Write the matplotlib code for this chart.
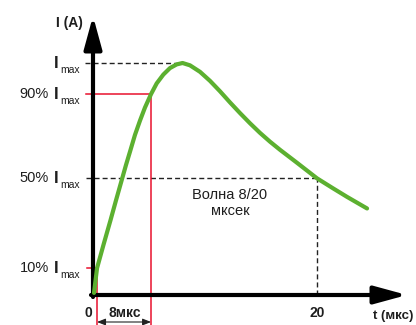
import matplotlib
matplotlib.use('Agg')
import matplotlib.pyplot as plt

# ---- data (time in µs, current as fraction of Imax) ----
t_us = [0.09, 0.36, 0.93, 1.56, 2.05, 2.58, 2.93, 3.29, 3.73, 4.18, 4.62, 5.16, 5.66, 6.25,
        6.84, 7.44, 7.96, 8.62, 9.51, 10.40, 11.29, 12.18, 13.07, 13.96, 14.84, 15.73,
        16.62, 18.13, 19.91, 21.33, 22.58, 24.36]
i_rel = [0.009, 0.116, 0.216, 0.323, 0.409, 0.500, 0.560, 0.618, 0.690, 0.752, 0.808, 0.866,
         0.912, 0.950, 0.978, 0.994, 1.000, 0.990, 0.962, 0.923, 0.878, 0.830, 0.784, 0.740,
         0.699, 0.661, 0.626, 0.570, 0.503, 0.460, 0.423, 0.373]

level_prefix = ['', '90%', '50%', '10%']
level_values = [1.0, 0.866, 0.503, 0.116]
t_peak = 7.96
t_start = 0.36      # 10 % point
t_rise = 5.16       # 90 % point ("8мкс")
t_half = 19.91      # 50 % on the tail ("20")
tick_labels = ['0', '8мкс', '20']
wave_label = 'Волна 8/20\nмксек'
x_label = 't (мкс)'
y_label = 'I (A)'

plt.rcParams['font.family'] = ['Liberation Sans', 'DejaVu Sans']

W, H = 416, 325
fig = plt.figure(figsize=(4.16, 3.25), dpi=100)
ax = fig.add_axes([0, 0, 1, 1])
X0, XS = 93, 11.25
Y0, YS = 295, 232
ax.set_xlim(-X0 / XS, (W - X0) / XS)
ax.set_ylim((Y0 - H) / YS, Y0 / YS)
ax.axis('off')


def dx(x):
    return (x - X0) / XS


def dy(y):
    return (Y0 - y) / YS


red = '#e8112d'
green = '#5cb030'
dash = (0, (3.6, 2.2))
txt = '#1e1e1e'

# dashed guide lines
ax.plot([dx(85), t_peak], [level_values[0]] * 2, color='#222222', lw=1, ls=dash)
ax.plot([dx(86), t_half], [level_values[2]] * 2, color='#222222', lw=1, ls=dash)
ax.plot([t_half, t_half], [0, level_values[2]], color='#222222', lw=1, ls=dash)

# red guide lines
ax.plot([dx(86), t_rise, t_rise], [level_values[1], level_values[1], dy(330)], color=red, lw=1.1)
ax.plot([dx(87), t_start, t_start], [level_values[3], level_values[3], dy(330)], color=red, lw=1.1)

# dimension arrows under 8мкс
ax.annotate('', xy=(t_start, dy(322)), xytext=(t_rise, dy(322)),
            arrowprops=dict(arrowstyle='<|-|>,head_length=0.5,head_width=0.2',
                            color='#222222', lw=0.8, shrinkA=0, shrinkB=0))

# curve
ax.plot(t_us, i_rel, color=green, lw=3, solid_capstyle='round',
        solid_joinstyle='round', zorder=5)

# axes with arrows
ax.annotate('', xy=(dx(407), 0), xytext=(dx(91), 0),
            arrowprops=dict(arrowstyle='-|>,head_length=1.1,head_width=0.3',
                            color='black', lw=3, mutation_scale=18, shrinkA=0, shrinkB=0))
ax.annotate('', xy=(0, dy(16)), xytext=(0, dy(297)),
            arrowprops=dict(arrowstyle='-|>,head_length=1.1,head_width=0.3',
                            color='black', lw=3, mutation_scale=18, shrinkA=0, shrinkB=0))

# level labels
for pre, v in zip(level_prefix, level_values):
    ax.text(dx(58), v, 'I', ha='right', va='center', fontsize=12, color=txt, fontweight='bold')
    if pre:
        ax.text(dx(49), v, pre, ha='right', va='center', fontsize=10.5, color=txt)
    ax.text(dx(60), v - 7 / YS, 'max', ha='left', va='center', fontsize=7.5, color=txt)

# axis titles
ax.text(dx(69), dy(23), y_label, ha='center', va='center', fontsize=10, fontweight='bold', color=txt)
ax.text(dx(393), dy(316), x_label, ha='center', va='center', fontsize=9.5, fontweight='bold', color=txt)

# tick labels
tick_x = [dx(88), dx(125), t_half]
for lab, xp in zip(tick_labels, tick_x):
    ax.text(xp, dy(313), lab, ha='center', va='center', fontsize=10, fontweight='bold', color=txt)

ax.text(dx(230), dy(203), wave_label, ha='center', va='center', fontsize=10.5,
        color=txt, linespacing=1.2)

fig.savefig('out.png', dpi=100)
